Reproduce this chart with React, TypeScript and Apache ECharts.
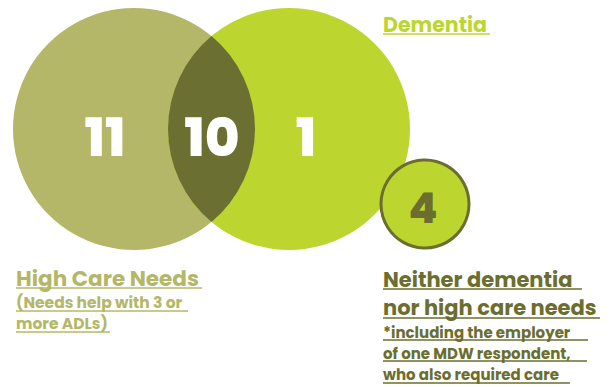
import React, { useEffect, useRef } from "react";
import * as echarts from "echarts";

// Venn regions (data)
const regionNames = ["High Care Needs only", "Dementia only", "Both", "Neither"];
const regionCounts = [11, 1, 10, 4];

// Labels
const dementiaLabel = ["Dementia"];
const highCareLabel = ["High Care Needs ", "(Needs help with 3 or", "more ADLs)"];
const neitherLabel = ["Neither dementia ", "nor high care needs"];
const neitherNote = ["*including the employer ", "of one MDW respondent, ", "who also required care"];

const C_LEFT = "#b4b768";
const C_RIGHT = "#bdd62f";
const C_BOTH = "#6b6f31";
const C_DARK = "#6b6e2e";
const FONT = "Poppins, Inter, sans-serif";

export default function App() {
  const ref = useRef<HTMLDivElement>(null);
  useEffect(() => {
    document.body.style.margin = "0";
    const chart = echarts.init(ref.current!, null, { renderer: "svg" });

    // layout (positions in axis units)
    const L = { cx: 134, cy: 129, r: 121 };
    const R = { cx: 289, cy: 129, r: 121 };
    const S = { cx: 425, cy: 204, r: 44 };
    const numPos = [
      [105, 137],
      [306, 137],
      [212, 137],
      [423, 208],
    ];

    const renderItem = (params: any, api: any) => {
      const i = params.dataIndex;
      const val = api.value(1);
      const p0 = api.coord([0, 0]);
      const p1 = api.coord([100, 100]);
      const sx = (p1[0] - p0[0]) / 100;
      const children: any[] = [];
      const [tx, ty] = api.coord(numPos[i]);
      if (i === 0 || i === 1) {
        const c = i === 0 ? L : R;
        const [cx, cy] = api.coord([c.cx, c.cy]);
        children.push({
          type: "circle",
          shape: { cx, cy, r: c.r * sx },
          style: { fill: i === 0 ? C_LEFT : C_RIGHT },
        });
      } else if (i === 2) {
        const d = R.cx - L.cx;
        const a = (d * d + L.r * L.r - R.r * R.r) / (2 * d);
        const h = Math.sqrt(L.r * L.r - a * a);
        const top = api.coord([L.cx + a, L.cy - h]);
        const bot = api.coord([L.cx + a, L.cy + h]);
        const pathData = `M${top[0]},${top[1]} A${L.r * sx},${L.r * sx} 0 0 1 ${bot[0]},${bot[1]} A${R.r * sx},${R.r * sx} 0 0 1 ${top[0]},${top[1]} Z`;
        children.push({
          type: "path",
          shape: { pathData },
          style: { fill: C_BOTH },
        });
      } else {
        const [cx, cy] = api.coord([S.cx, S.cy]);
        children.push({
          type: "circle",
          shape: { cx, cy, r: S.r * sx },
          style: { fill: C_RIGHT, stroke: C_DARK, lineWidth: 3 },
        });
      }
      children.push({
        type: "text",
        x: tx,
        y: ty,
        style: {
          text: String(val),
          fill: i === 3 ? C_DARK : "#ffffff",
          fontSize: i === 3 ? 42 : 53,
          fontWeight: 800,
          fontFamily: FONT,
          align: "center",
          verticalAlign: "middle",
        },
      });
      return { type: "group", children };
    };

    const graphic: any[] = [];
    const addText = (
      text: string,
      x: number,
      y: number,
      size: number,
      color: string,
      ulEnd: number,
      ulY: number
    ) => {
      graphic.push({
        type: "text",
        x,
        y,
        style: {
          text,
          fill: color,
          fontSize: size,
          fontWeight: 700,
          fontFamily: FONT,
          align: "left",
          verticalAlign: "middle",
        },
      });
      graphic.push({
        type: "line",
        shape: { x1: x, y1: ulY, x2: ulEnd, y2: ulY },
        style: { stroke: color, lineWidth: 1.3 },
      });
    };

    addText(dementiaLabel[0], 383, 24, 20.5, C_RIGHT, 490, 34);
    addText(highCareLabel[0], 16, 278, 21.5, C_LEFT, 202, 288);
    addText(highCareLabel[1], 16, 302, 15.5, C_LEFT, 188, 311);
    addText(highCareLabel[2], 16, 323, 15.5, C_LEFT, 110, 332);
    addText(neitherLabel[0], 383, 279, 21, C_DARK, 582, 289);
    addText(neitherLabel[1], 383, 307, 21, C_DARK, 600, 318);
    addText(neitherNote[0], 383, 332, 15, C_DARK, 588, 340);
    addText(neitherNote[1], 383, 353, 15, C_DARK, 587, 361);
    addText(neitherNote[2], 383, 374.5, 15, C_DARK, 570, 383);

    chart.setOption({
      animation: false,
      grid: { left: 0, right: 0, top: 0, bottom: 0 },
      xAxis: { type: "value", min: 0, max: 614, show: false },
      yAxis: { type: "value", min: 0, max: 387, inverse: true, show: false },
      series: [
        {
          type: "custom",
          renderItem,
          data: regionCounts.map((v, i) => ({ name: regionNames[i], value: [i, v] })),
        },
      ],
      graphic,
    });
    return () => chart.dispose();
  }, []);
  return <div ref={ref} style={{ width: 614, height: 387 }} />;
}
